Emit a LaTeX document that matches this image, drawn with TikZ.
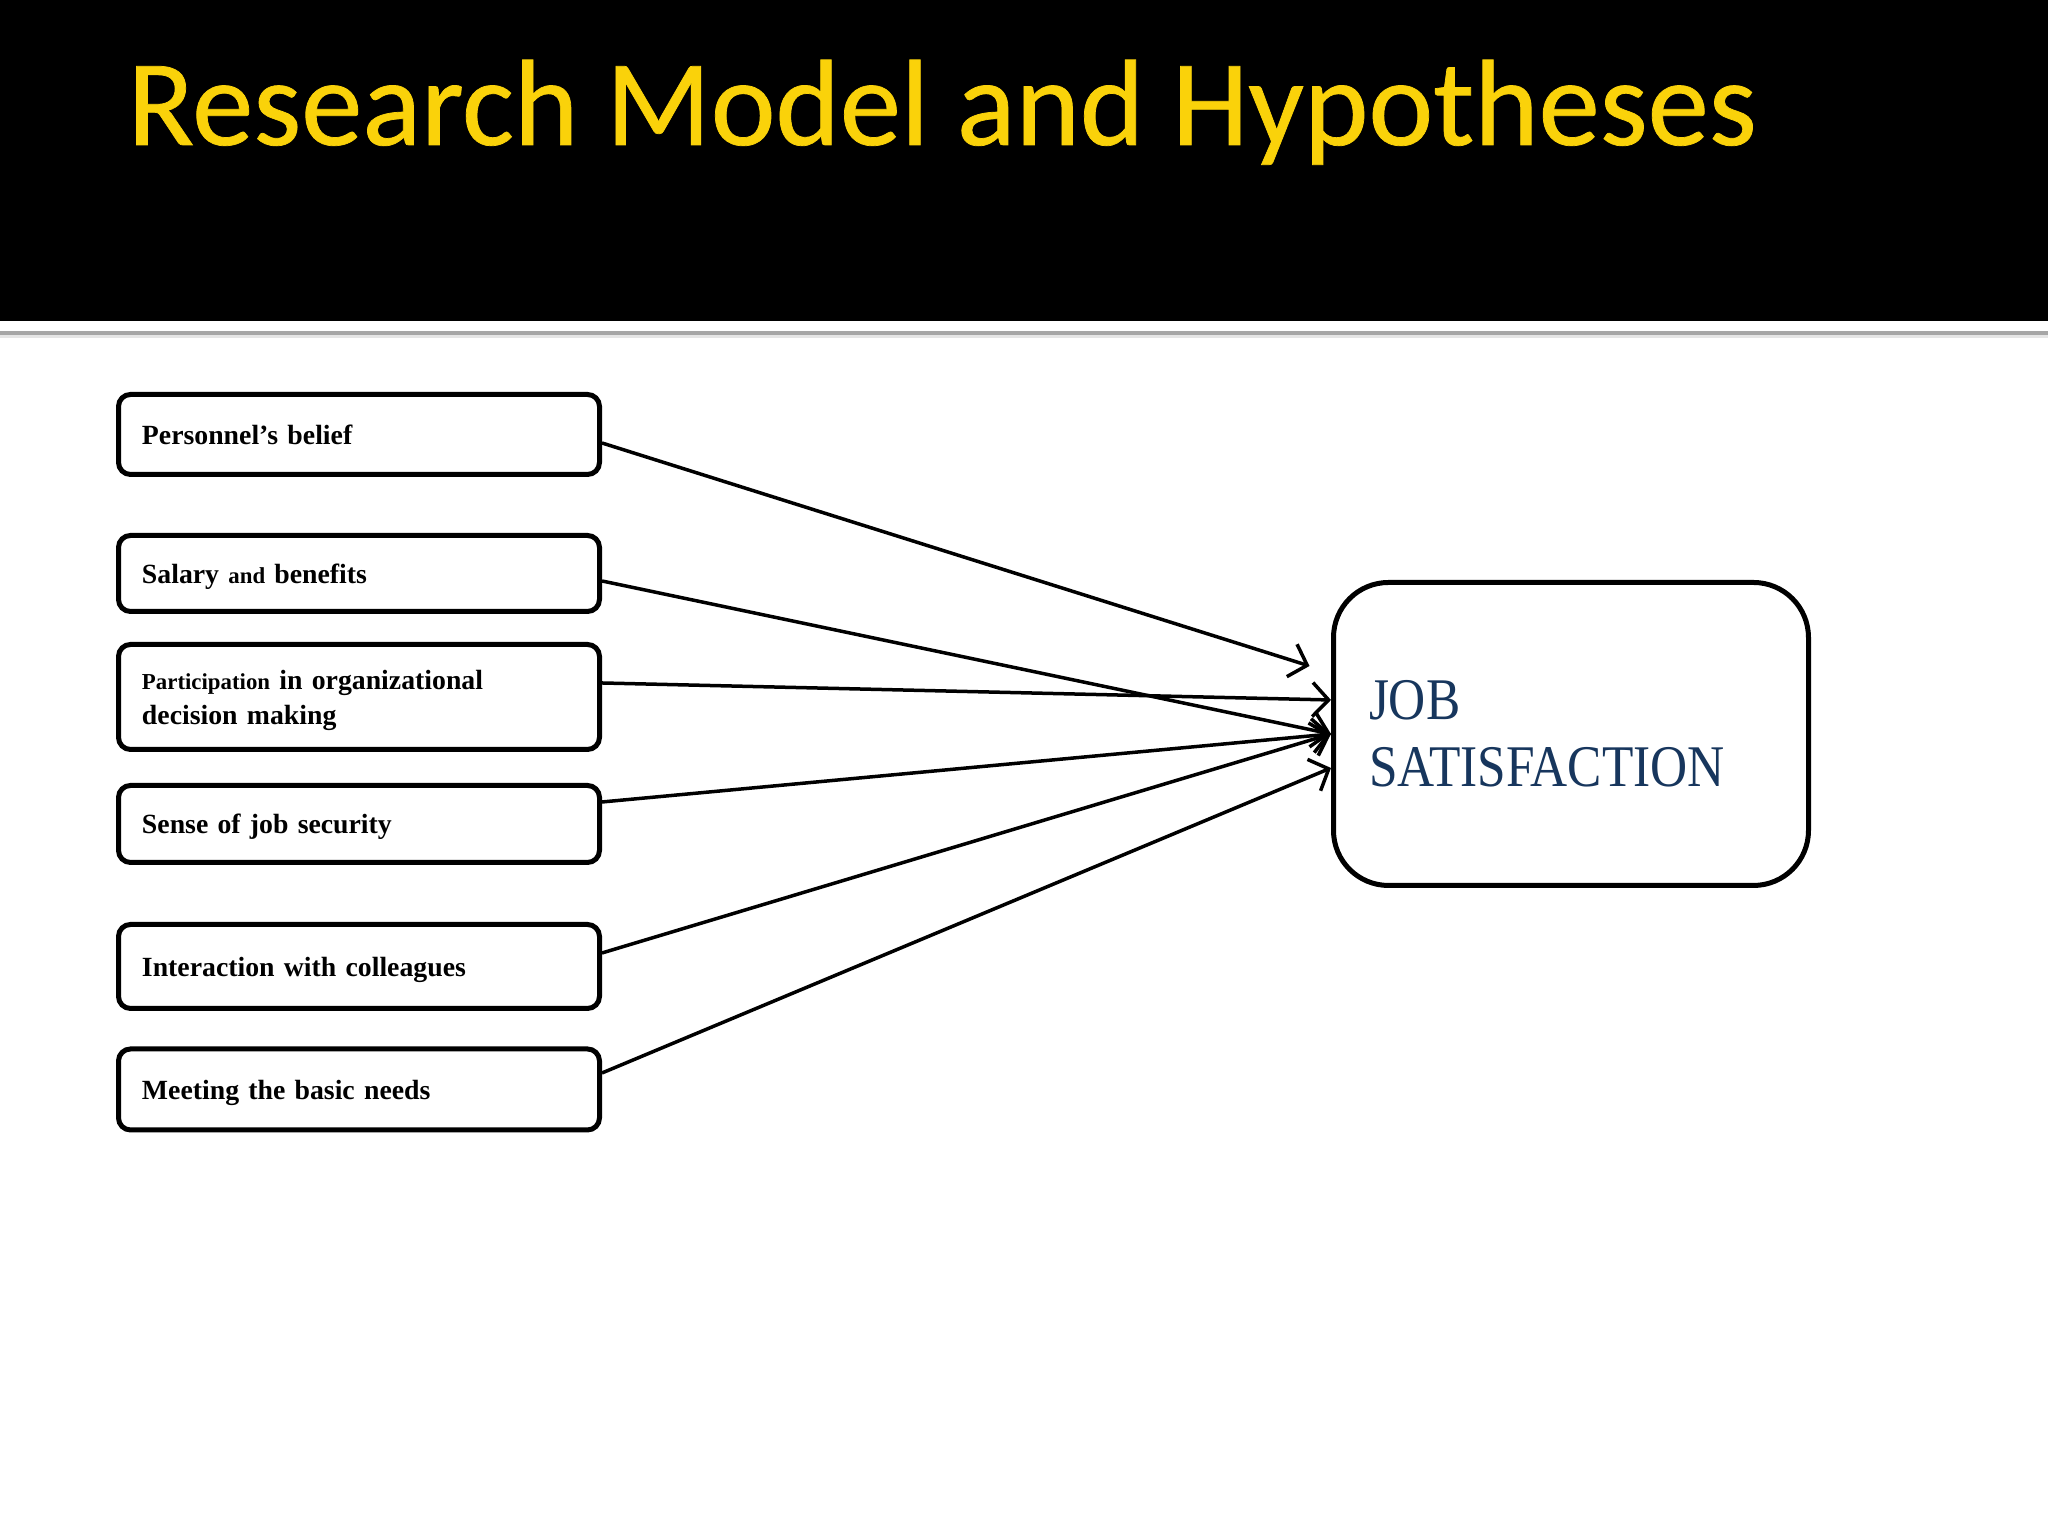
\documentclass[tikz,border=0pt]{standalone}
\usepackage{fontspec}
\setmainfont{Liberation Serif}
\newfontfamily\titlefont[FakeBold=0.6]{Carlito}
\newfontfamily\jobfont[FakeStretch=0.87]{Liberation Serif}
\usetikzlibrary{arrows.meta}
\definecolor{titleyellow}{RGB}{250,210,10}
\definecolor{jobblue}{RGB}{23,54,93}
\tikzset{
  factor/.style={
    draw,
    line width=0.5mm,
    rounded corners=0.12cm,
    minimum width=4.81cm,
    text width=4.34cm,
    inner xsep=0.235cm,
    align=left,
    font=\fontsize{7.9}{9.7}\selectfont\bfseries,
    execute at begin node={\rule{0pt}{7.5pt}},
    execute at end node={\rule[-1.8pt]{0pt}{0pt}}
  },
  outcome/.style={
    draw,
    line width=0.5mm,
    rounded corners=0.55cm,
    minimum width=4.75cm,
    minimum height=3.03cm,
    text width=4.04cm,
    inner xsep=0.355cm,
    align=left,
    text=jobblue,
    font=\jobfont\fontsize{16.8}{19}\selectfont
  },
  link/.style={
    line width=0.35mm,
    -{Straight Barb[length=1.6mm,width=3.4mm]}
  }
}

\begin{document}
\begin{tikzpicture}
    \useasboundingbox (0,0) rectangle (20.48,15.36);
    \fill[white] (0,0) rectangle (20.48,15.36);
    % header
    \fill[black] (0,12.15) rectangle (20.48,15.36);
    \draw[gray!70,line width=0.4mm] (0,12.03) -- (20.48,12.03);
    \draw[gray!20,line width=0.3mm] (0,11.99) -- (20.48,11.99);
    \node[anchor=base west,inner sep=0,text=titleyellow,font=\titlefont\fontsize{34.9}{40}\selectfont] (title) at (1.27,13.91) {Research Model and Hypotheses};
    % factors
    \foreach \n/\y/\h/\txt in {
        p1/11.015/0.80/{Personnel’s belief},
        p2/9.625/0.76/{Salary {\fontsize{6.5}{9.7}\selectfont and} benefits},
        p3/8.39/1.05/{{\fontsize{6.5}{9.7}\selectfont Participation} in organizational\\decision making},
        p4/7.12/0.77/{Sense of job security},
        p5/5.695/0.84/{Interaction with colleagues},
        p6/4.465/0.81/{Meeting the basic needs}}{
            \node[factor,minimum height=\h cm] (\n) at (3.59,\y) {\txt};
        }
    \node[outcome] (js) at (15.71,8.02) {JOB\\SATISFACTION};
    % links
    \draw[link] ([yshift=-0.085cm]p1.east) -- ([shift={(-0.215,0.68)}]js.west);
    \draw[link] ([yshift=-0.075cm]p2.east) -- (js.west);
    \draw[link] ([yshift=0.14cm]p3.east) -- ([yshift=0.34cm]js.west);
    \draw[link] ([yshift=0.22cm]p4.east) -- (js.west);
    \draw[link] ([yshift=0.135cm]p5.east) -- (js.west);
    \draw[link] ([yshift=0.165cm]p6.east) -- ([yshift=-0.34cm]js.west);
\end{tikzpicture}
\end{document}
